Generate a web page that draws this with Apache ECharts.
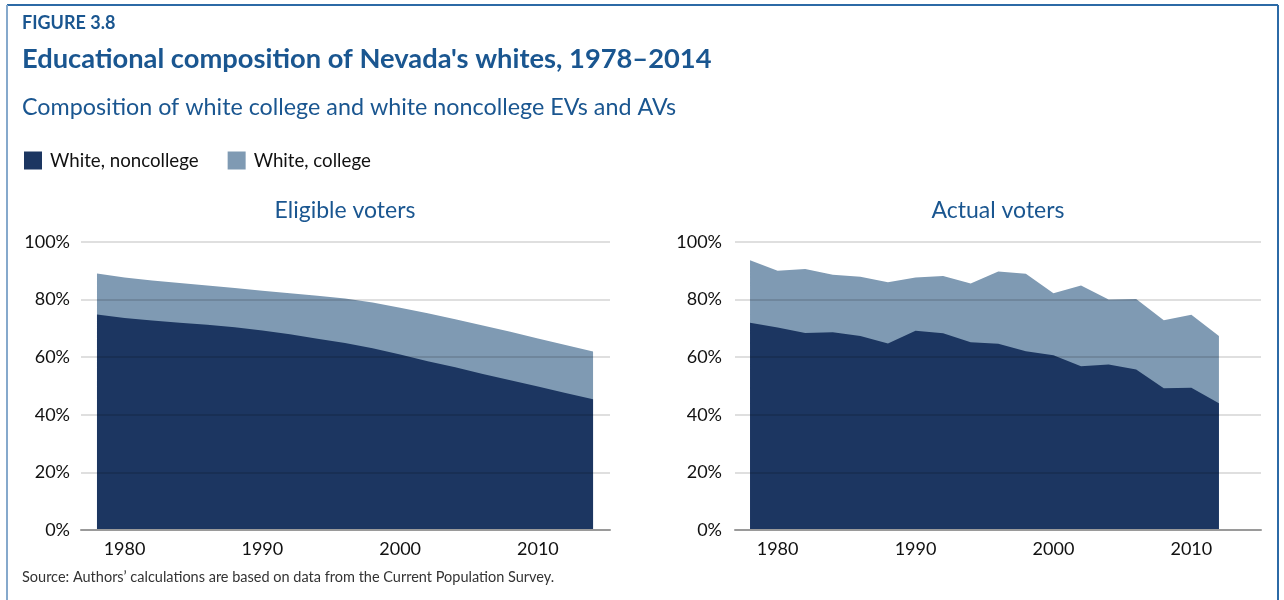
<!DOCTYPE html>
<html>
<head>
<meta charset="utf-8">
<script src="https://cdn.jsdelivr.net/npm/echarts@6/dist/echarts.min.js"></script>
<style>
html,body{margin:0;padding:0;background:#fff;}
#c{width:1284px;height:600px;}
</style>
</head>
<body>
<div id="c"></div>
<script>
// Eligible voters (every two years, 1978–2014), percent of all eligible voters
const eligYears = [1978,1980,1982,1984,1986,1988,1990,1992,1994,1996,1998,2000,2002,2004,2006,2008,2010,2012,2014];
const eligNoncollege = [74.8,73.6,72.7,72.0,71.3,70.4,69.3,68.0,66.4,64.9,63.1,60.9,58.6,56.5,54.2,52.0,49.8,47.6,45.4];
const eligCollege    = [14.3,14.1,13.9,13.8,13.6,13.6,13.8,14.2,14.9,15.5,15.9,16.3,16.7,16.7,16.8,16.8,16.7,16.6,16.6];

// Actual voters (every two years, 1978–2012)
const actYears = [1978,1980,1982,1984,1986,1988,1990,1992,1994,1996,1998,2000,2002,2004,2006,2008,2010,2012];
const actNoncollege = [72.0,70.3,68.4,68.7,67.4,64.8,69.2,68.3,65.2,64.7,62.1,60.7,56.9,57.5,55.7,49.2,49.4,44.0];
const actCollege    = [21.7,19.7,22.2,19.9,20.5,21.2,18.5,19.9,20.4,25.1,26.9,21.5,28.0,22.5,24.5,23.6,25.3,23.4];

const xTickLabels = [1980,1990,2000,2010];

const DARK = '#1c3661';
const LIGHT = '#7f9ab3';
const BLUE = '#1a5690';
const FONT = 'Lato';

const pairs = (xs, ys) => xs.map((x, i) => [x, ys[i]]);
// college band is stacked on top of noncollege: its upper edge is the sum
const stacked = (a, b) => a.map((v, i) => +(v + b[i]).toFixed(2));

const chart = echarts.init(document.getElementById('c'), null, {renderer: 'canvas'});

function xAx(gi, min, max) {
  return {
    type: 'value', gridIndex: gi, min: min, max: max, z: 6,
    splitLine: {show: false},
    axisLine: {show: true, lineStyle: {color: '#9a9a9a', width: 2}},
    axisTick: {show: false},
    axisLabel: {customValues: xTickLabels, color: '#111', fontSize: 18, fontFamily: FONT, margin: 10,
      formatter: v => String(v)}
  };
}
function yAx(gi, margin) {
  return {
    type: 'value', gridIndex: gi, min: 0, max: 100, interval: 20, z: 5,
    axisLine: {show: false}, axisTick: {show: false},
    splitLine: {show: true, lineStyle: {color: 'rgba(0,0,0,0.17)', width: 1.5}},
    axisLabel: {formatter: '{value}%', color: '#111', fontSize: 18, fontFamily: FONT, margin: margin}
  };
}
function area(name, gi, color, data) {
  return {
    name: name, type: 'line', xAxisIndex: gi, yAxisIndex: gi,
    data: data, symbol: 'none', lineStyle: {width: 0}, smooth: false,
    areaStyle: {color: color, opacity: 1}, itemStyle: {color: color},
    emphasis: {disabled: true}, silent: true, animation: false
  };
}

chart.setOption({
  animation: false,
  backgroundColor: '#fff',
  textStyle: {fontFamily: FONT},
  title: [
    {text: 'FIGURE 3.8', left: 22, top: 14, padding: 0, textStyle: {color: BLUE, fontSize: 18, fontWeight: 'bold', fontFamily: FONT}},
    {text: "Educational composition of Nevada's whites, 1978\u20132014", left: 22, top: 46, padding: 0, textStyle: {color: BLUE, fontSize: 27.3, fontWeight: 'bold', fontFamily: FONT}},
    {text: 'Composition of white college and white noncollege EVs and AVs', left: 22, top: 96, padding: 0, textStyle: {color: BLUE, fontSize: 23.3, fontWeight: 'normal', fontFamily: FONT}},
    {text: 'Eligible voters', left: 345, top: 199, padding: 0, textAlign: 'center', textStyle: {color: BLUE, fontSize: 23, fontWeight: 'normal', fontFamily: FONT}},
    {text: 'Actual voters', left: 998, top: 199, padding: 0, textAlign: 'center', textStyle: {color: BLUE, fontSize: 23, fontWeight: 'normal', fontFamily: FONT}},
    {text: 'Source: Authors\u2019 calculations are based on data from the Current Population Survey.', left: 22, top: 570, padding: 0, textStyle: {color: '#333', fontSize: 14.5, fontWeight: 'normal', fontFamily: FONT}}
  ],
  legend: {
    left: 24, top: 151, padding: 0, itemWidth: 18, itemHeight: 18, itemGap: 29, icon: 'rect',
    data: [{name: 'White, noncollege', itemStyle: {color: DARK}}, {name: 'White, college', itemStyle: {color: LIGHT}}],
    textStyle: {color: '#111', fontSize: 18.7, fontFamily: FONT, padding: [0, 0, 0, 3]},
    selectedMode: false
  },
  grid: [
    {left: 81, right: 674, top: 242, bottom: 70},
    {left: 735, right: 23, top: 242, bottom: 70}
  ],
  xAxis: [xAx(0, 1976.84, 2015.23), xAx(1, 1976.91, 2015.05)],
  yAxis: [yAx(0, 11), yAx(1, 13)],
  series: [
    area('White, college', 0, LIGHT, pairs(eligYears, stacked(eligNoncollege, eligCollege))),
    area('White, noncollege', 0, DARK, pairs(eligYears, eligNoncollege)),
    area('White, college', 1, LIGHT, pairs(actYears, stacked(actNoncollege, actCollege))),
    area('White, noncollege', 1, DARK, pairs(actYears, actNoncollege))
  ],
  graphic: [
    {type: 'line', shape: {x1: 7, y1: 5, x2: 1278, y2: 5}, style: {stroke: '#2c6aa6', lineWidth: 2}, silent: true},
    {type: 'line', shape: {x1: 1278, y1: 5, x2: 1278, y2: 600}, style: {stroke: '#2c6aa6', lineWidth: 2}, silent: true},
    {type: 'line', shape: {x1: 7, y1: 5, x2: 7, y2: 600}, style: {stroke: '#86a9cc', lineWidth: 2}, silent: true}
  ]
});
</script>
</body>
</html>
